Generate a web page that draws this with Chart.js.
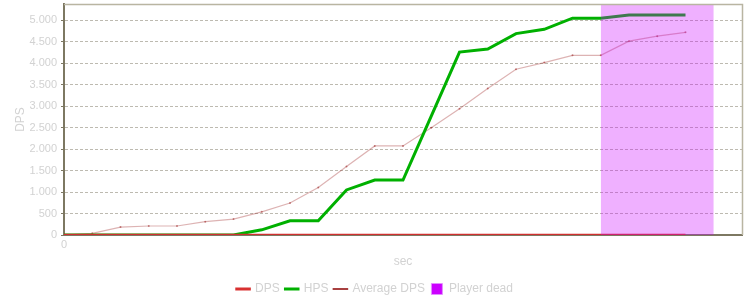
<!DOCTYPE html>
<html>
<head>
<meta charset="utf-8">
<script src="https://cdn.jsdelivr.net/npm/chart.js@4"></script>
<style>
  html, body { margin: 0; padding: 0; background: #fff; }
  #wrap { width: 750px; height: 300px; }
</style>
</head>
<body>
<div id="wrap"><canvas id="chart" width="750" height="300"></canvas></div>
<script>
// time in seconds (one sample per step)
const seconds = [0, 1, 2, 3, 4, 5, 6, 7, 8, 9, 10, 11, 12, 13, 14, 15, 16, 17, 18, 19, 20, 21, 22];
const dps = [0, 0, 0, 0, 0, 0, 0, 0, 0, 0, 0, 0, 0, 0, 0, 0, 0, 0, 0, 0, 0, 0, 0];
const hps = [0, 0, 0, 0, 0, 0, 0, 120, 330, 330, 1050, 1280, 1280, 2770, 4260, 4330, 4690, 4790, 5050, 5050, 5125, 5125, 5125];
const avgDps = [0, 40, 185, 210, 210, 310, 370, 540, 745, 1105, 1595, 2075, 2075, 2500, 2940, 3410, 3860, 4015, 4185, 4185, 4515, 4630, 4720];

// player dead period
const deadFrom = 19;
const deadTo = 23;

// axis ranges and ticks
const xMax = 24;
const xTicks = [0];
const yMax = 5380;
const yTicks = [0, 500, 1000, 1500, 2000, 2500, 3000, 3500, 4000, 4500, 5000];

const textColor = '#d2d2d2';
const fontFamily = '"Liberation Sans", Arial, sans-serif';

function fmt(v) {
    return String(v).replace(/\B(?=(\d{3})+(?!\d))/g, '.');
}

function pts(values) {
    return seconds.map((s, i) => ({ x: s, y: values[i] }));
}

// thin frame on top and right of the plot
const framePlugin = {
    id: 'frame',
    afterDraw(chart) {
        const a = chart.chartArea;
        const ctx = chart.ctx;
        ctx.save();
        ctx.strokeStyle = '#b9b5a2';
        ctx.lineWidth = 1.5;
        ctx.beginPath();
        ctx.moveTo(a.left, a.top + 0.5);
        ctx.lineTo(a.right + 0.5, a.top + 0.5);
        ctx.lineTo(a.right + 0.5, a.bottom);
        ctx.stroke();
        ctx.restore();
    }
};

const legendItems = [
    { text: 'DPS', strokeStyle: '#d83030', fillStyle: '#d83030', lineWidth: 3, pointStyle: 'line' },
    { text: 'HPS', strokeStyle: '#00b000', fillStyle: '#00b000', lineWidth: 3, pointStyle: 'line' },
    { text: 'Average DPS', strokeStyle: '#8b0000', fillStyle: '#8b0000', lineWidth: 1.5, pointStyle: 'line' },
    { text: 'Player dead', strokeStyle: '#e28cff', fillStyle: '#cc00ff', lineWidth: 1, pointStyle: 'rect' }
];

new Chart(document.getElementById('chart'), {
    type: 'line',
    data: {
        datasets: [
            {
                label: 'DPS',
                data: pts(dps),
                borderColor: '#d03030',
                borderWidth: 2.5,
                pointRadius: 0,
                order: 0
            },
            {
                label: 'HPS',
                data: pts(hps),
                borderColor: '#00b000',
                borderWidth: 3,
                pointRadius: 0,
                order: 0
            },
            {
                label: 'Average DPS',
                data: pts(avgDps),
                borderColor: 'rgba(150, 20, 20, 0.32)',
                borderWidth: 1.2,
                pointRadius: 1,
                pointBorderWidth: 0,
                pointBackgroundColor: 'rgba(139, 0, 0, 0.45)',
                order: 0
            },
            {
                label: 'Player dead',
                data: [{ x: deadFrom, y: yMax }, { x: deadTo, y: yMax }],
                borderWidth: 0,
                pointRadius: 0,
                backgroundColor: 'rgba(204, 0, 255, 0.31)',
                fill: 'origin',
                order: -1
            }
        ]
    },
    options: {
        responsive: false,
        animation: false,
        layout: { padding: { top: 4, right: 0, left: 0, bottom: 0 } },
        plugins: {
            tooltip: { enabled: false },
            legend: {
                position: 'bottom',
                maxHeight: 23,
                labels: {
                    usePointStyle: true,
                    boxWidth: 12,
                    boxHeight: 11,
                    padding: 6,
                    color: textColor,
                    font: { family: fontFamily, size: 12 },
                    generateLabels: () => legendItems.map((it, i) => ({
                        ...it,
                        datasetIndex: i,
                        hidden: false,
                        fontColor: textColor
                    }))
                }
            }
        },
        scales: {
            x: {
                type: 'linear',
                min: 0,
                max: xMax,
                afterFit: (s) => { s.height = 42; },
                afterBuildTicks: (s) => { s.ticks = xTicks.map(v => ({ value: v })); },
                grid: { display: false, drawTicks: false },
                border: { display: true, color: '#7d7862', width: 2 },
                ticks: {
                    padding: 3,
                    maxRotation: 0,
                    color: textColor,
                    font: { family: fontFamily, size: 11 },
                    callback: (v) => fmt(v)
                },
                title: {
                    display: true,
                    text: 'sec',
                    color: textColor,
                    font: { family: fontFamily, size: 12 },
                    padding: { top: 0, bottom: 8 }
                }
            },
            y: {
                min: 0,
                max: yMax,
                afterFit: (s) => {
                    s.width = 64;
                    s.paddingTop = 0;
                    s.paddingBottom = 0;
                },
                afterBuildTicks: (s) => { s.ticks = yTicks.map(v => ({ value: v })); },
                grid: {
                    color: '#bdbab0',
                    lineWidth: 1,
                    tickLength: 3,
                    tickColor: '#7d7862',
                    tickBorderDash: [],
                    drawTicks: true
                },
                border: { display: true, color: '#7d7862', width: 2, dash: [3, 2] },
                ticks: {
                    padding: 4,
                    color: textColor,
                    font: { family: fontFamily, size: 11 },
                    callback: (v) => fmt(v)
                },
                title: {
                    display: true,
                    text: 'DPS',
                    color: textColor,
                    font: { family: fontFamily, size: 12 },
                    padding: { top: 13, bottom: 0 }
                }
            },
            // empty strip on the right so the plot ends where the reference does
            yRight: {
                position: 'right',
                display: true,
                afterFit: (s) => {
                    s.width = 8;
                    s.paddingTop = 0;
                    s.paddingBottom = 0;
                },
                afterBuildTicks: (s) => { s.ticks = []; },
                grid: { display: false, drawTicks: false },
                border: { display: false },
                ticks: { display: false }
            }
        }
    },
    plugins: [framePlugin]
});
</script>
</body>
</html>
